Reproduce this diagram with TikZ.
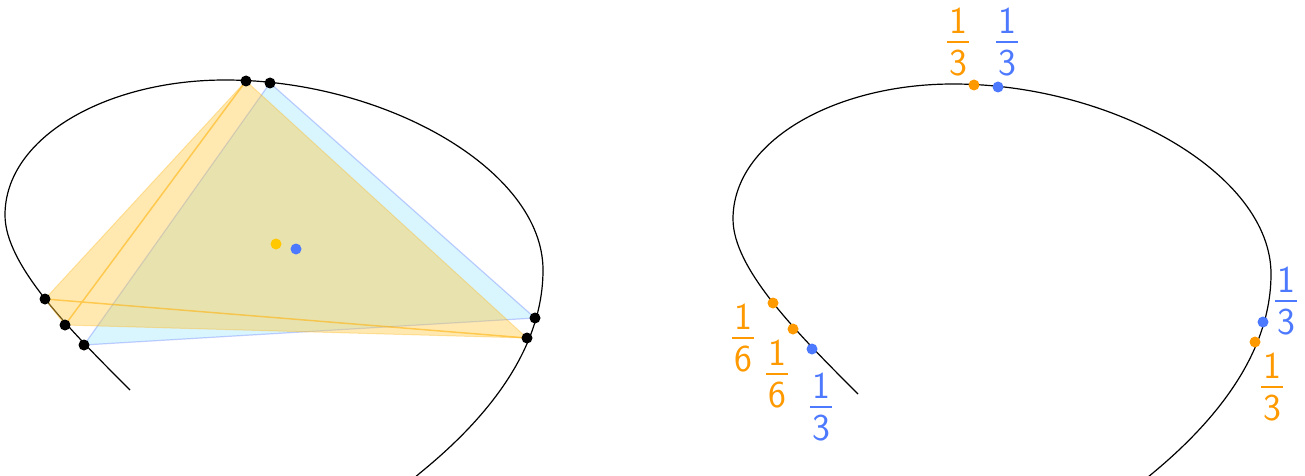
\documentclass[tikz,border=0pt]{standalone}
\usepackage{tikz}
\definecolor{ofill}{RGB}{255,200,60}
\definecolor{oline}{RGB}{255,175,0}
\definecolor{bfill}{RGB}{146,226,250}
\definecolor{bline}{RGB}{90,120,255}
\definecolor{olab}{RGB}{255,153,0}
\definecolor{blab}{RGB}{77,121,255}
\definecolor{ycen}{RGB}{255,200,0}
\newcommand{\myfrac}[2]{\shortstack{#1\\[5pt]\rule{0.56em}{2pt}\\[4pt]#2}}
\newcommand{\mycurve}{(130,390) .. controls (70,330) and (5,265) .. (5,215) .. controls (5,137) and (107,80) .. (225,80) .. controls (385,80) and (543,170) .. (543,270) .. controls (543,320) and (521,391) .. (420,473) -- ++(-7,6)}
\begin{document}
\begin{tikzpicture}[x=1pt,y=-1pt,
  kdot/.style={circle,fill=black,inner sep=0pt,minimum size=11pt},
  odot/.style={circle,fill=olab,inner sep=0pt,minimum size=11pt},
  bdot/.style={circle,fill=blab,inner sep=0pt,minimum size=11pt},
  ydot/.style={circle,fill=ycen,inner sep=0pt,minimum size=11pt},
  curveline/.style={line width=1.2pt,black},
  fraclab/.style={font=\sffamily\fontsize{38}{40}\selectfont,inner sep=0pt}]
\useasboundingbox (0,0) rectangle (1305,476);
% left panel
\coordinate (A1) at (45,299);
\coordinate (A2) at (65,325);
\coordinate (A3) at (246,81);
\coordinate (A4) at (527,338);
\coordinate (B1) at (84,345);
\coordinate (B2) at (270,83);
\coordinate (B3) at (535,318);
\draw[curveline] \mycurve;
\fill[bfill,opacity=.35] (B1)--(B2)--(B3)--cycle;
\draw[bline,opacity=.35,line width=1.2pt] (B1)--(B2)--(B3)--cycle;
\fill[ofill,opacity=.4] (A1)--(A3)--(A4)--(A2)--cycle;
\draw[oline,opacity=.3,line width=1pt] (A1)--(A3)--(A4)--(A2)--cycle;
\draw[oline,opacity=.55,line width=1.5pt] (A1)--(A4) (A2)--(A3);
\foreach \p in {A1,A2,A3,A4,B1,B2,B3} \node[kdot] (k\p) at (\p) {};
\node[ydot] (yc) at (276,244) {};
\node[bdot] (bc) at (296,249) {};
% right panel
\begin{scope}[shift={(728,4)}]
\draw[curveline] \mycurve;
\node[odot] (o1) at (45,299) {};
\node[odot] (o2) at (65,325) {};
\node[odot] (o3) at (246,81) {};
\node[odot] (o4) at (527,338) {};
\node[bdot] (b1) at (84,345) {};
\node[bdot] (b2) at (270,83) {};
\node[bdot] (b3) at (535,318) {};
\end{scope}
\node[fraclab,text=olab] (l1) at (743,338) {\myfrac{1}{6}};
\node[fraclab,text=olab] (l2) at (777,374) {\myfrac{1}{6}};
\node[fraclab,text=blab] (l3) at (821,407) {\myfrac{1}{3}};
\node[fraclab,text=olab] (l4) at (958,42) {\myfrac{1}{3}};
\node[fraclab,text=blab] (l5) at (1007,42) {\myfrac{1}{3}};
\node[fraclab,text=blab] (l6) at (1286,301) {\myfrac{1}{3}};
\node[fraclab,text=olab] (l7) at (1272,387) {\myfrac{1}{3}};
\end{tikzpicture}
\end{document}
